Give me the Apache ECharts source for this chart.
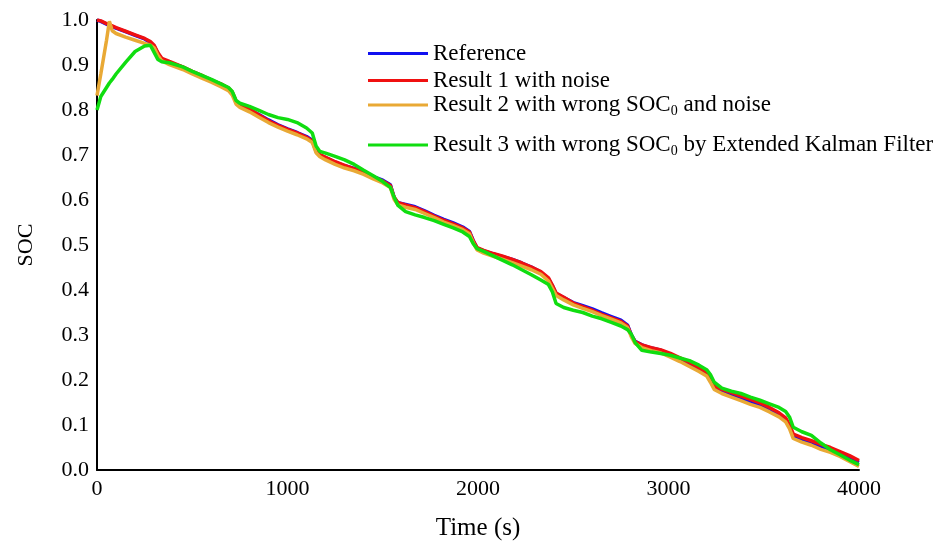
<!DOCTYPE html>
<html>
<head>
<meta charset="utf-8">
<script src="https://cdn.jsdelivr.net/npm/echarts@6/dist/echarts.min.js"></script>
<style>
html,body{margin:0;padding:0;background:#fff;}
#chart{width:951px;height:549px;}
</style>
</head>
<body>
<div id="chart"></div>
<script>
const time = [0,20,50,65,80,100, 150,200,250,280,300, 320,340,380,450,500, 550,600,650,690,710,
  730,750,800,850,900, 950,1000,1050,1100,1130, 1150,1170,1200,1250,1300, 1350,1400,1450,1500,1540,
  1560,1580,1620,1670,1720, 1770,1820,1870,1920,1955, 1975,1995,2030,2080,2130, 2180,2230,2280,2330,2370,
  2390,2410,2450,2500,2550, 2600,2650,2700,2750,2785, 2805,2825,2860,2910,2960, 3010,3060,3110,3160,3200,
  3220,3240,3280,3330,3380, 3430,3480,3530,3580,3615, 3635,3655,3700,3750,3800, 3850,3900,3950,4000];

const reference = [1.000,0.997,0.991,0.988,0.985,0.982, 0.974,0.966,0.958,0.950,0.942, 0.925,0.913,0.906,0.895,0.885,
  0.876,0.867,0.857,0.848,0.838, 0.818,0.811,0.801,0.790,0.778, 0.767,0.758,0.750,0.741,0.733,
  0.708,0.700,0.694,0.684,0.676, 0.670,0.663,0.652,0.644,0.634, 0.605,0.594,0.590,0.585,0.576,
  0.566,0.557,0.549,0.540,0.530, 0.510,0.493,0.487,0.480,0.474, 0.468,0.460,0.451,0.440,0.425,
  0.410,0.392,0.383,0.372,0.365, 0.358,0.349,0.341,0.333,0.322, 0.300,0.286,0.278,0.271,0.266,
  0.257,0.247,0.236,0.224,0.214, 0.200,0.184,0.175,0.168,0.159, 0.152,0.145,0.135,0.123,0.112,
  0.097,0.075,0.067,0.061,0.052, 0.046,0.036,0.027,0.017];

const result1 = [1.000,0.998,0.992,0.990,0.987,0.983, 0.975,0.967,0.959,0.952,0.944, 0.927,0.915,0.908,0.896,0.886,
  0.877,0.866,0.858,0.849,0.840, 0.820,0.812,0.802,0.789,0.776, 0.766,0.757,0.749,0.739,0.731,
  0.710,0.701,0.695,0.685,0.677, 0.669,0.661,0.651,0.642,0.632, 0.606,0.594,0.589,0.583,0.574,
  0.564,0.555,0.547,0.538,0.529, 0.509,0.494,0.488,0.481,0.475, 0.468,0.460,0.451,0.441,0.427,
  0.411,0.393,0.384,0.371,0.363, 0.355,0.346,0.338,0.330,0.320, 0.299,0.285,0.278,0.272,0.267,
  0.259,0.249,0.239,0.227,0.217, 0.203,0.187,0.179,0.172,0.164, 0.157,0.149,0.139,0.127,0.116,
  0.101,0.080,0.072,0.065,0.057, 0.050,0.041,0.032,0.021];

const result2 = [0.832,0.880,0.955,0.997,0.976,0.970, 0.962,0.955,0.948,0.944,0.938, 0.921,0.909,0.901,0.890,0.880,
  0.871,0.862,0.852,0.843,0.833, 0.813,0.806,0.796,0.784,0.772, 0.762,0.753,0.745,0.736,0.728,
  0.705,0.696,0.689,0.679,0.671, 0.665,0.657,0.647,0.638,0.628, 0.601,0.589,0.584,0.579,0.570,
  0.561,0.551,0.543,0.534,0.525, 0.505,0.489,0.482,0.475,0.468, 0.461,0.453,0.445,0.435,0.420,
  0.404,0.388,0.378,0.367,0.359, 0.352,0.343,0.335,0.327,0.317, 0.296,0.281,0.272,0.265,0.260,
  0.251,0.241,0.230,0.219,0.209, 0.195,0.179,0.170,0.162,0.154, 0.146,0.139,0.129,0.118,0.107,
  0.092,0.070,0.062,0.055,0.046, 0.039,0.030,0.019,0.008];

const result3 = [0.800,0.830,0.850,0.860,0.868,0.880, 0.906,0.930,0.942,0.944,0.928, 0.912,0.907,0.905,0.896,0.886,
  0.877,0.868,0.858,0.850,0.841, 0.821,0.815,0.808,0.799,0.790, 0.783,0.779,0.772,0.760,0.749,
  0.720,0.708,0.704,0.697,0.689, 0.679,0.666,0.654,0.641,0.628, 0.606,0.588,0.574,0.567,0.561,
  0.554,0.546,0.538,0.529,0.519, 0.503,0.492,0.486,0.476,0.466, 0.456,0.445,0.434,0.422,0.412,
  0.396,0.370,0.361,0.355,0.350, 0.342,0.336,0.328,0.320,0.312, 0.302,0.283,0.266,0.262,0.259,
  0.255,0.249,0.243,0.233,0.223, 0.212,0.195,0.182,0.175,0.170, 0.162,0.155,0.147,0.139,0.130,
  0.118,0.095,0.085,0.077,0.060, 0.045,0.034,0.022,0.012];

const seriesNames = ['Reference', 'Result 1 with noise', 'Result 2 with wrong SOC0 and noise', 'Result 3 with wrong SOC0 by Extended Kalman Filter'];
const seriesColors = ['#1010f0', '#f01010', '#e9a935', '#10dd10'];
const seriesValues = [reference, result1, result2, result3];

const FONT = "'Liberation Serif', 'Times New Roman', serif";

function pairs(vals) { return time.map((t, i) => [t, vals[i]]); }

const legendFormat = function (name) {
  if (name.indexOf('SOC0') >= 0) {
    const parts = name.split('SOC0');
    return '{t|' + parts[0] + 'SOC}{s|0}{t|' + parts[1] + '}';
  }
  return '{t|' + name + '}';
};

const legendTops = [42, 69, 92, 132];
const legends = seriesNames.map((n, i) => ({
  data: [n],
  orient: 'vertical',
  left: 368,
  top: legendTops[i],
  icon: 'rect',
  itemWidth: 60,
  itemHeight: 3,
  itemGap: 0,
  padding: 0,
  selectedMode: false,
  formatter: legendFormat,
  textStyle: {
    fontFamily: FONT,
    fontSize: 23,
    color: '#000',
    rich: {
      t: { fontFamily: FONT, fontSize: 23, color: '#000', lineHeight: 26 },
      s: { fontFamily: FONT, fontSize: 14, color: '#000', verticalAlign: 'bottom', padding: [12, 0, 0, 0], lineHeight: 26 }
    }
  }
}));

const chart = echarts.init(document.getElementById('chart'), null, { renderer: 'canvas' });
chart.setOption({
  backgroundColor: '#fff',
  animation: false,
  grid: { left: 97, right: 92, top: 20, bottom: 79 },
  legend: legends,
  xAxis: {
    type: 'value', min: 0, max: 4000, interval: 1000,
    name: 'Time (s)', nameLocation: 'middle', nameGap: 46,
    nameTextStyle: { fontFamily: FONT, fontSize: 25, color: '#000' },
    axisLine: { show: true, lineStyle: { color: '#000', width: 2 } },
    axisTick: { show: false },
    splitLine: { show: false },
    axisLabel: { fontFamily: FONT, fontSize: 22, color: '#000', margin: 8, formatter: v => String(v) }
  },
  yAxis: {
    type: 'value', min: 0, max: 1, interval: 0.1,
    name: 'SOC', nameLocation: 'middle', nameGap: 60, nameRotate: 90,
    nameTextStyle: { fontFamily: FONT, fontSize: 22, color: '#000' },
    axisLine: { show: true, lineStyle: { color: '#000', width: 2 } },
    axisTick: { show: false },
    splitLine: { show: false },
    axisLabel: { fontFamily: FONT, fontSize: 22, color: '#000', margin: 8, formatter: v => v.toFixed(1) }
  },
  series: seriesNames.map((n, i) => ({
    name: n,
    type: 'line',
    data: pairs(seriesValues[i]),
    showSymbol: false,
    symbol: 'none',
    lineStyle: { color: seriesColors[i], width: 3.5 },
    itemStyle: { color: seriesColors[i] },
    z: 2 + i
  }))
});
</script>
</body>
</html>
